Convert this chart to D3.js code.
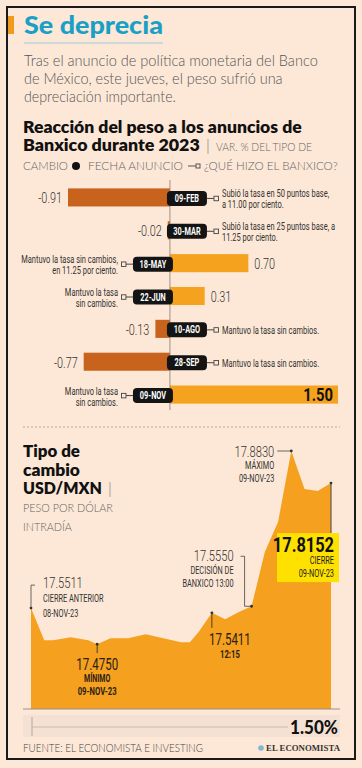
<!DOCTYPE html>
<html>
<head>
<meta charset="utf-8"/>
<title>Se deprecia</title>
<script src="https://cdn.jsdelivr.net/npm/d3@7"></script>
<style>
  html, body { margin: 0; padding: 0; background: #fde8d7; }
  svg { display: block; }
</style>
</head>
<body>
<svg id="chart" width="362" height="768"></svg>
<script>
// ---- datos: anuncios de Banxico 2023
var fechas = ["09-FEB", "30-MAR", "18-MAY", "22-JUN", "10-AGO", "28-SEP", "09-NOV"];
var variacion = [-0.91, -0.02, 0.70, 0.31, -0.13, -0.77, 1.50];
var decisiones = [
  ["Subió la tasa en 50 puntos base,", "a 11.00 por ciento."],
  ["Subió la tasa en 25 puntos base, a", "11.25 por ciento."],
  ["Mantuvo la tasa sin cambios,", "en 11.25 por ciento."],
  ["Mantuvo la tasa", "sin cambios."],
  ["Mantuvo la tasa sin cambios."],
  ["Mantuvo la tasa sin cambios."],
  ["Mantuvo la tasa", "sin cambios."]
];

// ---- datos: tipo de cambio intradía 09-nov-23
var horas = ["08:50", "09:05", "09:15", "09:35", "09:55", "10:05", "10:20", "10:40",
  "11:00", "11:20", "11:40", "11:50", "12:00", "12:15", "12:30", "12:45",
  "13:00", "13:15", "13:30", "13:45", "14:00", "14:15", "14:30"];
var tipoCambio = [17.5511, 17.4834, 17.4834, 17.4898, 17.4834, 17.4750, 17.4877, 17.4877,
  17.4961, 17.4877, 17.4792, 17.4792, 17.5004, 17.5411, 17.5278, 17.5426,
  17.5550, 17.6695, 17.7330, 17.8830, 17.8027, 17.7985, 17.8152];
var variacionDia = "1.50%";

var GEO = "Lato, 'Open Sans', sans-serif";
var COND = "Roboto, 'Liberation Sans', sans-serif";
var BG = "#fde8d7";

var svg = d3.select("#chart");
svg.append("rect").attr("width", 362).attr("height", 768).attr("fill", BG);
svg.append("rect").attr("x", 7).attr("y", 7).attr("width", 348).attr("height", 752)
  .attr("fill", "none").attr("stroke", "#1a1a1a").attr("stroke-width", 2);

// texto angosto: se escala en horizontal (o.w = ancho final, o.k = factor)
function label(x, y, s, o) {
  o = o || {};
  var t = svg.append("text").text(s)
    .attr("font-family", o.font || COND)
    .attr("font-size", o.size || 11)
    .attr("font-weight", o.weight || 400)
    .attr("fill", o.fill || "#333")
    .attr("text-anchor", o.anchor || "start");
  var len = t.node().getComputedTextLength();
  var k = o.w ? o.w / len : (o.k || (o.font ? 1 : 0.7));
  t.attr("transform", "translate(" + x + "," + y + ") scale(" + k.toFixed(3) + ",1)");
  return t;
}

// ---- encabezado
svg.append("rect").attr("x", 8).attr("y", 16).attr("width", 6).attr("height", 18).attr("fill", "#f39a1e");
label(24, 34, "Se deprecia", {font: GEO, size: 24, weight: 900, fill: "#1a9fc6", w: 139});
svg.append("line").attr("x1", 24).attr("x2", 163).attr("y1", 43).attr("y2", 43)
  .attr("stroke", "#9cc9d8").attr("stroke-width", 1);
label(24, 66, "Tras el anuncio de política monetaria del Banco", {font: GEO, size: 15, weight: 300, fill: "#555", w: 294});
label(24, 84, "de México, este jueves, el peso sufrió una", {font: GEO, size: 15, weight: 300, fill: "#555", w: 259});
label(24, 102, "depreciación importante.", {font: GEO, size: 15, weight: 300, fill: "#555", w: 152});

label(23, 133, "Reacción del peso a los anuncios de", {font: GEO, size: 17, weight: 800, fill: "#111", w: 279});
label(23, 151, "Banxico durante 2023", {font: GEO, size: 17, weight: 800, fill: "#111", w: 177});
label(206, 151, "|", {font: GEO, size: 16, weight: 300, fill: "#777"});
label(216, 151, "VAR. % DEL TIPO DE", {font: GEO, size: 12, weight: 300, fill: "#666", w: 96});
label(23, 170, "CAMBIO", {font: GEO, size: 12, weight: 300, fill: "#666", w: 45});
svg.append("circle").attr("cx", 76).attr("cy", 166).attr("r", 4).attr("fill", "#111");
label(88, 170, "FECHA ANUNCIO", {font: GEO, size: 12, weight: 300, fill: "#666", w: 95});
svg.append("line").attr("x1", 188).attr("x2", 196).attr("y1", 166).attr("y2", 166).attr("stroke", "#555");
svg.append("rect").attr("x", 196).attr("y", 164).attr("width", 4).attr("height", 4)
  .attr("fill", BG).attr("stroke", "#555").attr("stroke-width", 1);
label(204, 170, "¿QUÉ HIZO EL BANXICO?", {font: GEO, size: 12, weight: 300, fill: "#666", w: 134});

// ---- barras
var filas = fechas.map(function(f, i) { return {fecha: f, v: variacion[i], nota: decisiones[i]}; });
var xBar = d3.scaleLinear().domain([d3.min(variacion), d3.max(variacion)]).range([68, 338]);
var yBar = d3.scaleBand().domain(fechas).range([181, 411]).paddingInner(0.45).paddingOuter(0.225);
var x0 = xBar(0);

svg.append("g").selectAll("rect").data(filas).enter().append("rect")
  .attr("x", function(d) { return xBar(Math.min(0, d.v)); })
  .attr("y", function(d) { return yBar(d.fecha); })
  .attr("width", function(d) { return Math.abs(xBar(d.v) - x0); })
  .attr("height", yBar.bandwidth())
  .attr("fill", function(d) { return d.v < 0 ? "#c7631d" : "#f5a21f"; });

svg.append("line").attr("x1", x0).attr("x2", x0).attr("y1", 180).attr("y2", 410)
  .attr("stroke", "#8a7a70").attr("stroke-width", 0.8);

var vmax = d3.max(variacion);
filas.forEach(function(d) {
  var cy = yBar(d.fecha) + yBar.bandwidth() / 2;
  var neg = d.v < 0;
  var px = neg ? x0 - 3 : x0 + 3 - 40;
  // conector y cuadro
  var lx = neg ? px + 40 : px;
  var sx = neg ? px + 47 : px - 11.5;
  svg.append("line").attr("x1", lx).attr("x2", neg ? sx : sx + 4.5)
    .attr("y1", cy + 1).attr("y2", cy + 1).attr("stroke", "#444").attr("stroke-width", 1);
  svg.append("rect").attr("x", sx).attr("y", cy - 1.2).attr("width", 4.5).attr("height", 4.5)
    .attr("fill", BG).attr("stroke", "#444").attr("stroke-width", 0.9);
  // pastilla de fecha
  svg.append("rect").attr("x", px).attr("y", cy - 6.5).attr("width", 40).attr("height", 15)
    .attr("rx", 4).attr("fill", "#141414");
  label(px + 20, cy + 4.5, d.fecha, {size: 10.5, weight: 700, fill: "#fff", anchor: "middle", k: 0.7});
  // nota
  var tx = neg ? px + 55 : px - 15;
  d.nota.forEach(function(s, j) {
    var yy = d.nota.length === 1 ? cy + 5 : cy + j * 11;
    label(tx, yy, s, {size: 11.5, fill: "#333", anchor: neg ? "start" : "end", k: 0.65});
  });
  // valor
  if (d.v === vmax) {
    label(xBar(d.v) - 5, cy + 6, d.v.toFixed(2), {size: 19, weight: 700, fill: "#111", anchor: "end", k: 0.78});
  } else {
    label(neg ? xBar(d.v) - 6 : xBar(d.v) + 6, cy + 6, d.v.toFixed(2),
      {size: 15.5, weight: 300, fill: "#333", anchor: neg ? "end" : "start", k: 0.7});
  }
});

// ---- separador
svg.append("line").attr("x1", 23).attr("x2", 340).attr("y1", 427).attr("y2", 427)
  .attr("stroke", "#b5a89f").attr("stroke-width", 1).attr("stroke-dasharray", "2,2");

label(23, 457, "Tipo de", {font: GEO, size: 17, weight: 800, fill: "#111", w: 57});
label(23, 476, "cambio", {font: GEO, size: 17, weight: 800, fill: "#111", w: 57});
label(23, 494, "USD/MXN", {font: GEO, size: 17, weight: 800, fill: "#111", w: 79});
label(108, 494, "|", {font: GEO, size: 16, weight: 300, fill: "#777"});
label(23, 512, "PESO POR DÓLAR", {font: GEO, size: 12, weight: 300, fill: "#666", w: 90});
label(23, 531, "INTRADÍA", {font: GEO, size: 12, weight: 300, fill: "#666", w: 49});

// ---- área intradía
var parseHora = d3.timeParse("%H:%M");
var serie = horas.map(function(h, i) { return {t: parseHora(h), v: tipoCambio[i], h: h}; });
var xT = d3.scaleTime().domain(d3.extent(serie, function(d) { return d.t; })).range([31, 331]);
var yT = d3.scaleLinear().domain([17.338, d3.max(tipoCambio)]).range([709, 451]);

svg.append("path").datum(serie)
  .attr("d", d3.area()
    .x(function(d) { return xT(d.t); })
    .y0(yT(17.338))
    .y1(function(d) { return yT(d.v); }))
  .attr("fill", "#f5a01e");

svg.append("line").attr("x1", 23).attr("x2", 340).attr("y1", 709).attr("y2", 709)
  .attr("stroke", "#9a8f88").attr("stroke-width", 1);

function pt(d) { return [xT(d.t), yT(d.v)]; }
var ini = serie[0];
var fin = serie[serie.length - 1];
var minimo = serie.reduce(function(a, b) { return b.v < a.v ? b : a; });
var maximo = serie.reduce(function(a, b) { return b.v > a.v ? b : a; });
var p1215 = serie.filter(function(d) { return d.h === "12:15"; })[0];
var p1300 = serie.filter(function(d) { return d.h === "13:00"; })[0];
var callout = svg.append("g").attr("fill", "none").attr("stroke", "#555").attr("stroke-width", 0.9);
function dot(p) {
  svg.append("circle").attr("cx", p[0]).attr("cy", p[1]).attr("r", 1.4).attr("fill", "#333");
}

// cierre anterior
var a = pt(ini);
callout.append("path").attr("d", "M" + a[0] + "," + a[1] + "V" + (a[1] - 23) + "h4");
dot(a);
label(a[0] + 12, a[1] - 20, ini.v.toFixed(4), {size: 15.5, weight: 300, fill: "#333", k: 0.72});
label(a[0] + 12, a[1] - 6, "CIERRE ANTERIOR", {size: 10.5, fill: "#333", k: 0.7});
label(a[0] + 12, a[1] + 9, "08-NOV-23", {size: 10.5, fill: "#333", k: 0.7});

// mínimo
var m = pt(minimo);
callout.append("line").attr("x1", m[0]).attr("x2", m[0]).attr("y1", m[1]).attr("y2", m[1] + 9).attr("stroke", "#333");
dot(m);
label(m[0], m[1] + 26, minimo.v.toFixed(4), {size: 16, fill: "#2a2116", anchor: "middle", k: 0.72});
label(m[0], m[1] + 38, "MÍNIMO", {size: 10, weight: 700, fill: "#2a2116", anchor: "middle", k: 0.7});
label(m[0], m[1] + 51, "09-NOV-23", {size: 11, weight: 700, fill: "#2a2116", anchor: "middle", k: 0.7});

// 12:15
var q = pt(p1215);
callout.append("line").attr("x1", q[0]).attr("x2", q[0]).attr("y1", q[1]).attr("y2", q[1] + 15).attr("stroke", "#333");
dot(q);
label(q[0] + 18, q[1] + 32, p1215.v.toFixed(4), {size: 16, fill: "#2a2116", anchor: "middle", k: 0.72});
label(q[0] + 18, q[1] + 45, p1215.h, {size: 11, weight: 700, fill: "#2a2116", anchor: "middle", k: 0.7});

// decisión 13:00
var b = pt(p1300);
callout.append("path").attr("d", "M" + b[0] + "," + b[1] + "h-7V" + (b[1] - 50) + "h-4");
dot(b);
label(b[0] - 18, b[1] - 45, p1300.v.toFixed(4), {size: 15.5, weight: 300, fill: "#333", anchor: "end", k: 0.72});
label(b[0] - 18, b[1] - 32, "DECISIÓN DE", {size: 10.5, fill: "#333", anchor: "end", k: 0.7});
label(b[0] - 18, b[1] - 19, "BANXICO 13:00", {size: 10.5, fill: "#333", anchor: "end", k: 0.7});

// máximo
var c = pt(maximo);
callout.append("line").attr("x1", c[0] - 14).attr("x2", c[0]).attr("y1", c[1]).attr("y2", c[1]);
dot(c);
label(c[0] - 17, c[1] + 6, maximo.v.toFixed(4), {size: 15.5, weight: 300, fill: "#333", anchor: "end", k: 0.72});
label(c[0] - 17, c[1] + 18, "MÁXIMO", {size: 10.5, fill: "#333", anchor: "end", k: 0.7});
label(c[0] - 17, c[1] + 31, "09-NOV-23", {size: 10.5, fill: "#333", anchor: "end", k: 0.7});

// cierre
var e = pt(fin);
svg.append("line").attr("x1", e[0]).attr("x2", e[0]).attr("y1", e[1]).attr("y2", e[1] + 50)
  .attr("stroke", "#444").attr("stroke-width", 1);
dot(e);
svg.append("rect").attr("x", e[0] - 54).attr("y", e[1] + 50).attr("width", 62).attr("height", 49).attr("fill", "#ffe100");
label(e[0] + 3, e[1] + 69, fin.v.toFixed(4), {size: 21, weight: 700, fill: "#111", anchor: "end", k: 0.78});
label(e[0] + 3, e[1] + 81, "CIERRE", {size: 10.5, fill: "#222", anchor: "end", k: 0.7});
label(e[0] + 3, e[1] + 94, "09-NOV-23", {size: 10.5, fill: "#222", anchor: "end", k: 0.7});

// ---- barra de variación del día
svg.append("rect").attr("x", 23).attr("y", 715).attr("width", 317).attr("height", 22).attr("fill", "#f5e1d4");
svg.append("line").attr("x1", 32).attr("x2", 32).attr("y1", 717).attr("y2", 736).attr("stroke", "#c9b9ad").attr("stroke-width", 1.5);
svg.append("line").attr("x1", 32).attr("x2", 288).attr("y1", 727).attr("y2", 727).attr("stroke", "#c9b9ad").attr("stroke-width", 1);
label(338, 734, variacionDia, {font: GEO, size: 18, weight: 900, fill: "#111", anchor: "end", w: 48});

// ---- pie
label(23, 752, "FUENTE: EL ECONOMISTA E INVESTING", {font: GEO, size: 11, weight: 300, fill: "#444", w: 180});
svg.append("circle").attr("cx", 261).attr("cy", 748).attr("r", 2.8).attr("fill", "#7fb8d8");
label(340, 751, "EL ECONOMISTA", {font: "'Liberation Serif', 'DejaVu Serif', serif", size: 9, weight: 700, fill: "#333", anchor: "end", w: 74});
</script>
</body>
</html>
